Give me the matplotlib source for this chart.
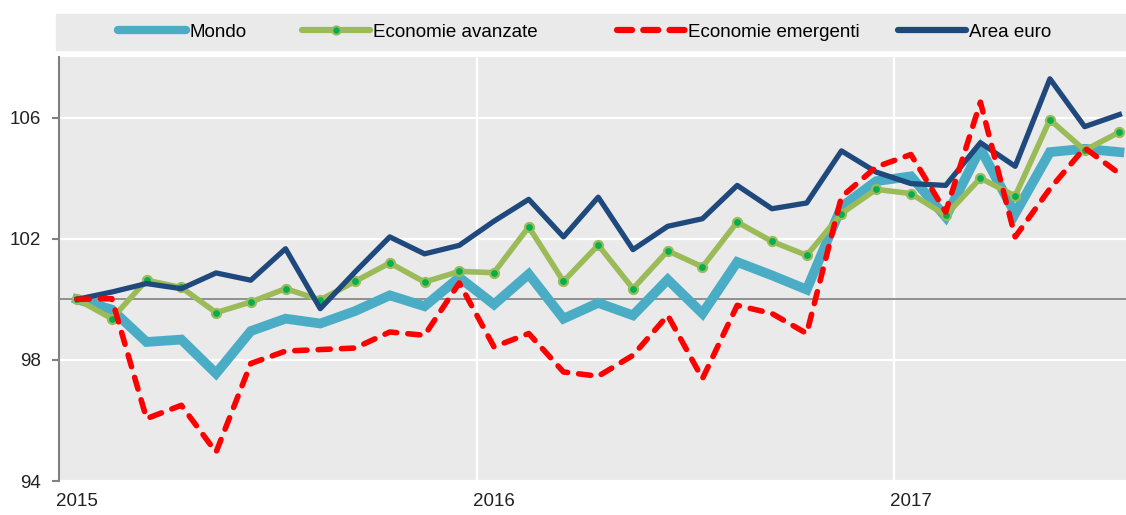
import numpy as np
import matplotlib.pyplot as plt
import matplotlib.lines as mlines

plt.rcParams['font.family'] = ['Liberation Sans Narrow', 'Liberation Sans', 'DejaVu Sans']

#Data (monthly index, Jan 2015 = 100)
mondo = [100.0, 99.66, 98.59, 98.67, 97.55, 98.95, 99.36, 99.2, 99.61, 100.13, 99.77,
         100.72, 99.83, 100.83, 99.36, 99.88, 99.47, 100.65, 99.53, 101.23, 100.79,
         100.32, 103.05, 103.9, 104.06, 102.72, 104.97, 102.83, 104.86, 104.97, 104.86]
avanzate = [100.0, 99.36, 100.63, 100.39, 99.56, 99.91, 100.35, 99.98, 100.59, 101.2, 100.57,
            100.92, 100.88, 102.39, 100.59, 101.79, 100.35, 101.6, 101.07, 102.55, 101.91,
            101.45, 102.83, 103.63, 103.49, 102.77, 104.0, 103.41, 105.93, 104.92, 105.52]
emergenti = [100.0, 100.02, 96.06, 96.5, 94.95, 97.88, 98.29, 98.34, 98.39, 98.92, 98.81,
             100.54, 98.43, 98.87, 97.6, 97.46, 98.15, 99.47, 97.38, 99.8, 99.53,
             98.87, 103.38, 104.37, 104.78, 102.88, 106.51, 102.06, 103.65, 105.0, 104.15]
euro = [100.0, 100.24, 100.52, 100.35, 100.87, 100.63, 101.67, 99.69, 100.9, 102.06, 101.5,
        101.78, 102.58, 103.3, 102.06, 103.37, 101.64, 102.41, 102.66, 103.76, 102.99,
        103.18, 104.9, 104.2, 103.82, 103.76, 105.17, 104.39, 107.28, 105.7, 106.1]
year_labels = ["2015", "2016", "2017"]
y_ticks = [94, 98, 102, 106]

x = np.arange(len(mondo))

#Colors
c_mondo = "#4BACC6"
c_avz = "#9BBB59"
c_dot = "#00B050"
c_emg = "#FF0000"
c_euro = "#1F497D"
bg = "#EAEAEA"
axis_gray = "#808080"
fs = 13.5

fig = plt.figure(figsize=(11.26, 5.15), dpi=100)
ax = fig.add_axes([59/1126, 34/515, 1 - 59/1126, 424/515])
ax.set_facecolor(bg)

#Plot
ax.axhline(100, color=axis_gray, lw=1.2, zorder=2)
ax.plot(x, mondo, color=c_mondo, lw=7, solid_joinstyle="miter", zorder=3)
ax.plot(x, avanzate, color=c_avz, lw=4, marker="o", ms=6.5, mfc=c_dot, mec=c_avz, mew=1.6, zorder=4)
ax.plot(x, euro, color=c_euro, lw=3.8, zorder=5)
ax.plot(x, emergenti, color=c_emg, lw=4, ls=(0, (2.2, 2.0)), dash_capstyle="round", zorder=6)

#Axes
ax.set_xlim(-0.52, 30.19)
ax.set_ylim(94, 108)
ax.set_yticks(y_ticks)
ax.set_xticks([0, 12, 24])
ax.set_xticklabels(year_labels)
ax.set_xticks([11.5, 23.5], minor=True)
ax.grid(axis="y", which="major", color="white", lw=1.6, zorder=1)
ax.grid(axis="x", which="minor", color="white", lw=1.6, zorder=1)
ax.set_axisbelow(True)
for s in ["top", "right", "bottom"]:
    ax.spines[s].set_visible(False)
ax.spines["left"].set_color(axis_gray)
ax.spines["left"].set_linewidth(1.5)
ax.tick_params(axis="y", length=5, width=1.5, color=axis_gray, pad=8, labelsize=fs, labelcolor="#222222")
ax.tick_params(axis="x", which="both", length=0, pad=9, labelsize=fs, labelcolor="#222222")

#Legend band
fig.patches.append(plt.Rectangle((56/1126, (515-50)/515), 1 - 56/1126, 36/515,
                                 transform=fig.transFigure, color=bg, zorder=0))
handles = [
    mlines.Line2D([], [], color=c_mondo, lw=6, solid_capstyle="round"),
    mlines.Line2D([], [], color=c_avz, lw=4.5, solid_capstyle="round", marker="o", ms=6, mfc=c_dot, mec=c_avz, mew=1.4),
    mlines.Line2D([], [], color=c_emg, lw=4.5, ls=(0, (2.4, 1.8)), dash_capstyle="round"),
    mlines.Line2D([], [], color=c_euro, lw=4.5, solid_capstyle="round"),
]
names = ["Mondo", "Economie avanzate", "Economie emergenti", "Area euro"]
starts = [118, 302, 617, 898]
for h, n, sx in zip(handles, names, starts):
    fig.legend([h], [n], loc="center left", bbox_to_anchor=(sx/1126, (515-32)/515),
               frameon=False, borderpad=0, borderaxespad=0, handlelength=3.6,
               handletextpad=0.2, fontsize=fs)

fig.savefig("out.png", dpi=100)
